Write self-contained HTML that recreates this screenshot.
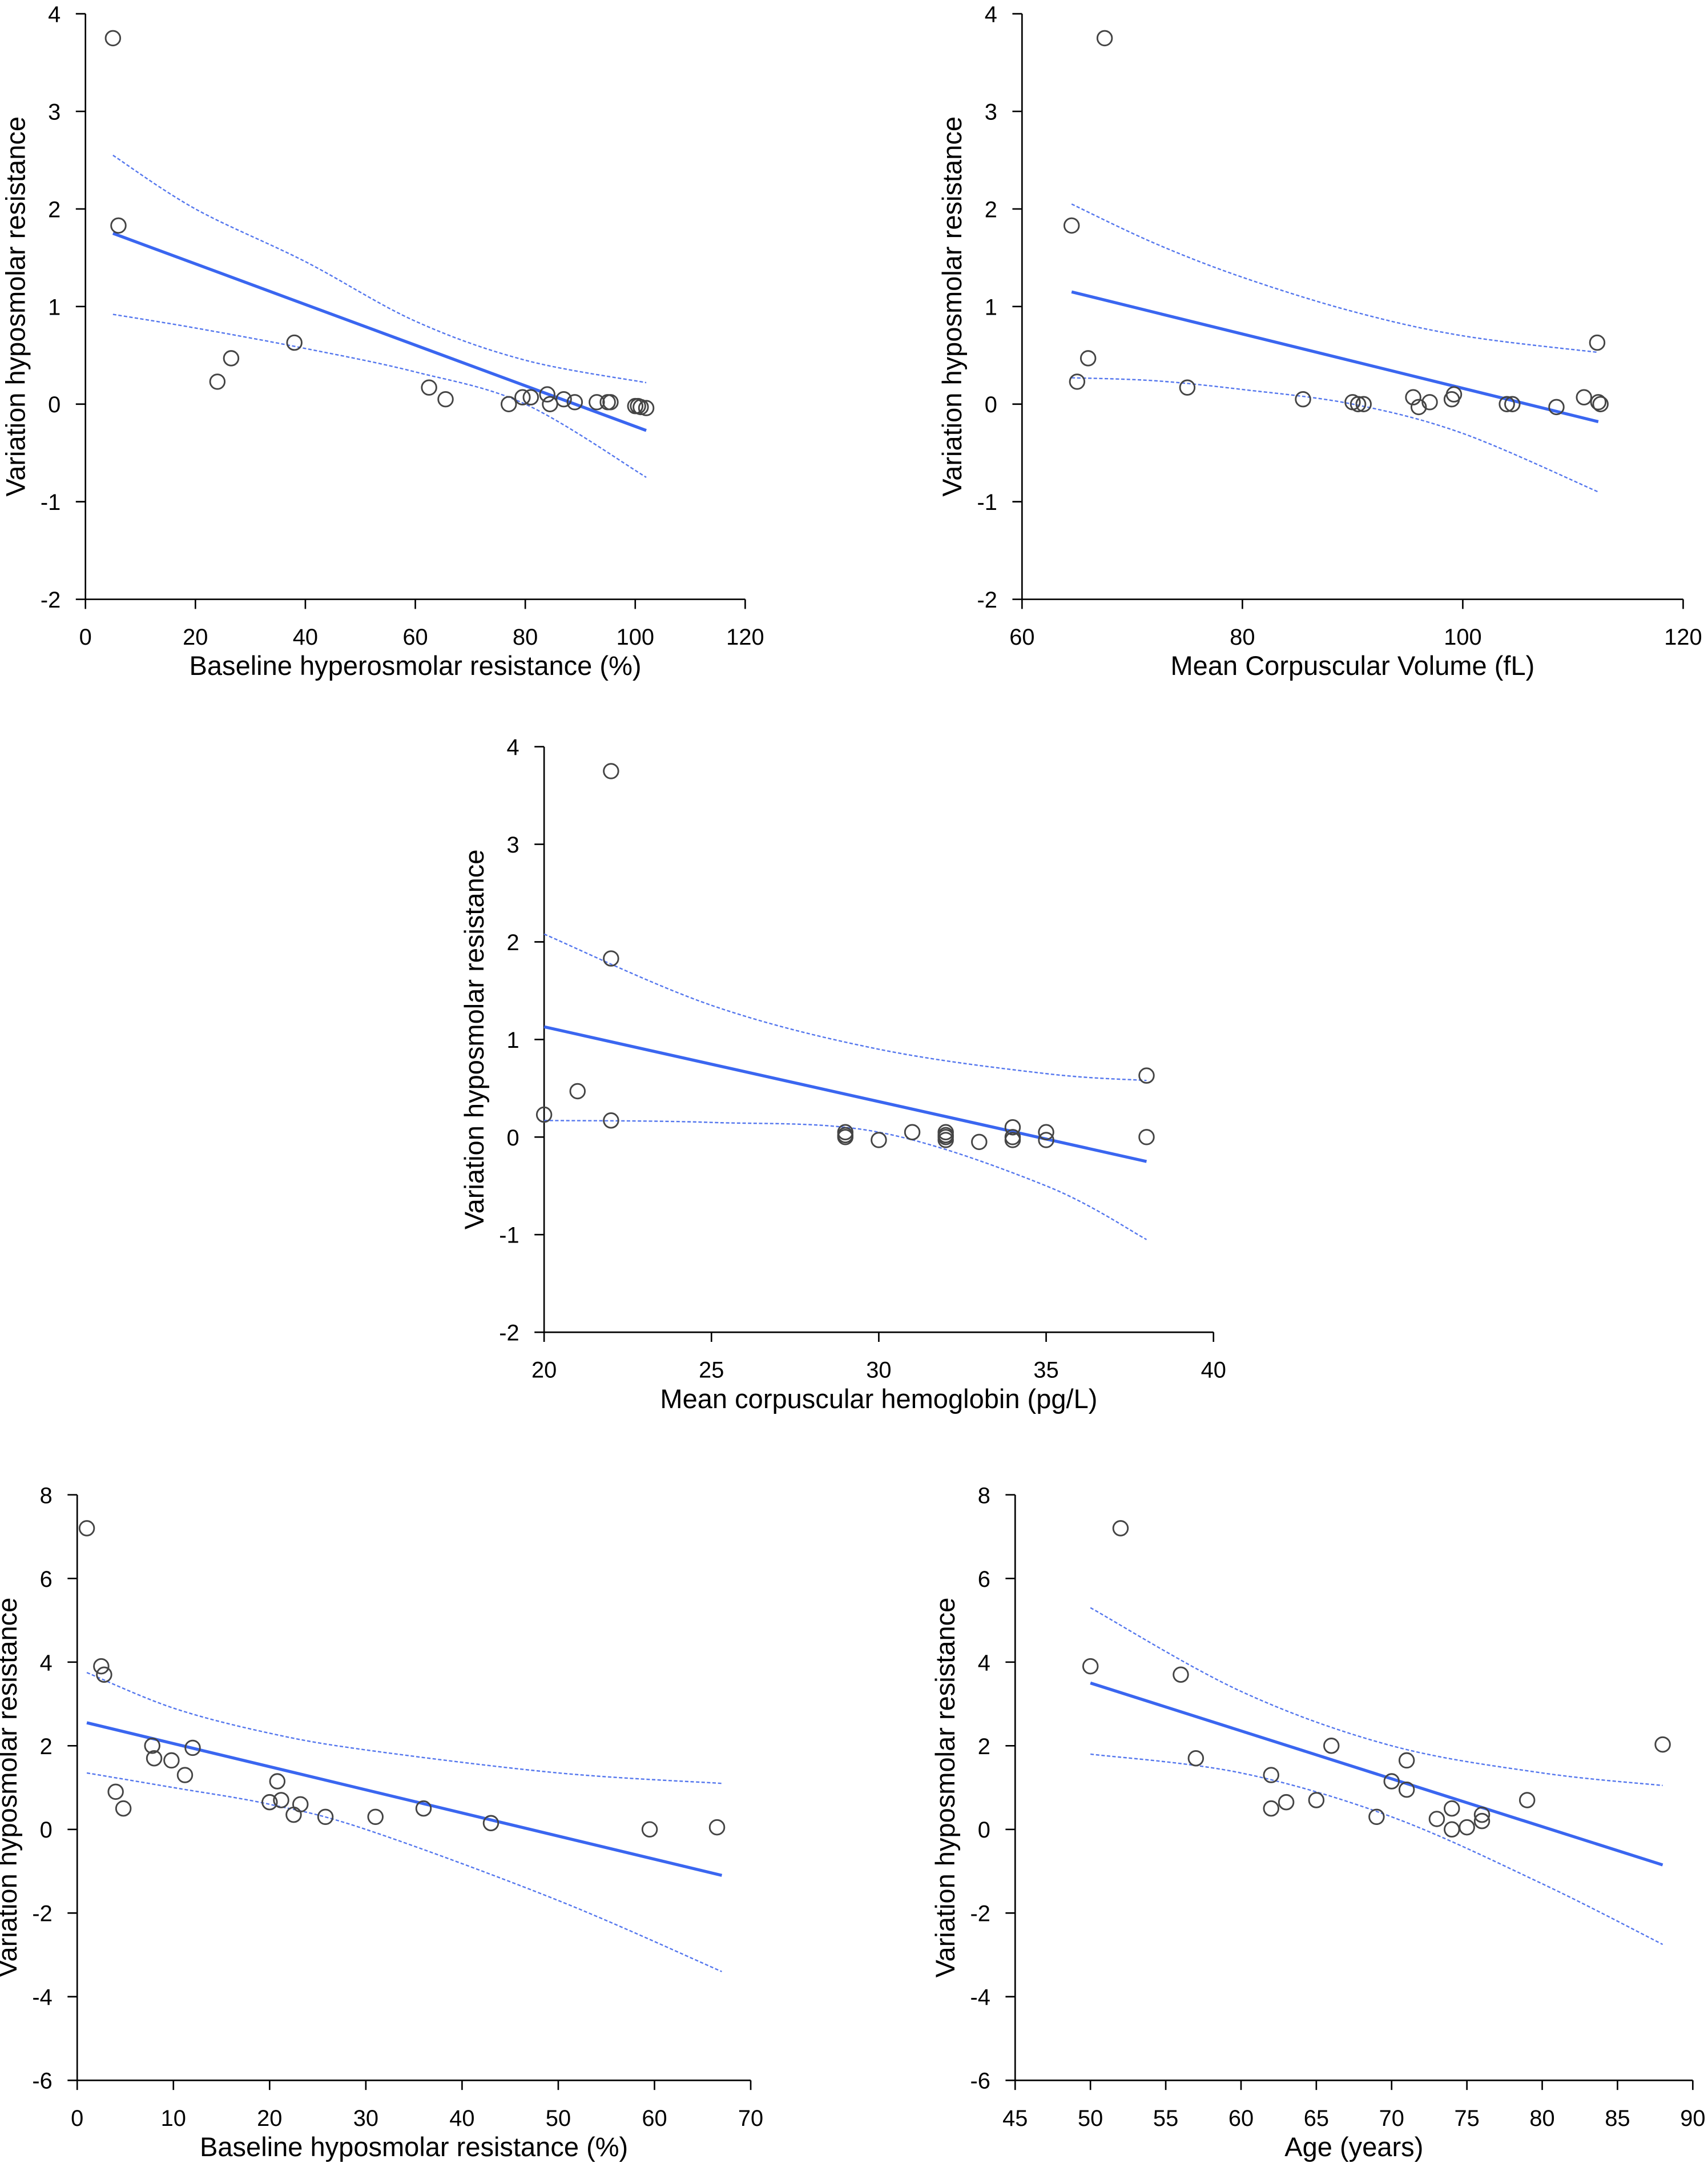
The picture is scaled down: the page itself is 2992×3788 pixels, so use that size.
<!DOCTYPE html>
<html><head><meta charset="utf-8"><style>
html,body{margin:0;padding:0;background:#fff}
svg{display:block}
text{font-family:"Liberation Sans",Arial,sans-serif;fill:#000}
</style></head><body>
<svg id="fig" width="2992" height="3788" viewBox="0 0 1240 1570" xmlns="http://www.w3.org/2000/svg"></svg>
<script>
// ---- data ----
const p1X=[5,6,24,26.5,38,62.5,65.5,77,79.5,81,84,84.5,87,89,93,95,95.5,100,100.5,101,102];
const p1Y=[3.75,1.83,0.23,0.47,0.63,0.17,0.05,0,0.07,0.07,0.1,0,0.05,0.02,0.02,0.02,0.02,-0.02,-0.02,-0.03,-0.04];
const p1FitX=[5,102], p1FitY=[1.75,-0.27];
const p1CiX=[5,20,40,60,80,102];
const p1Up=[2.55,2.0,1.46,0.85,0.45,0.22];
const p1Lo=[0.92,0.78,0.57,0.33,0.0,-0.75];

const p2X=[64.5,65,66,67.5,75,85.5,90,90.5,91,95.5,96,97,99,99.2,104,104.5,108.5,111,112.2,112.3,112.5];
const p2Y=[1.83,0.23,0.47,3.75,0.17,0.05,0.02,0,0,0.07,-0.03,0.02,0.05,0.1,0,0,-0.03,0.07,0.63,0.02,0];
const p2FitX=[64.5,112.3], p2FitY=[1.15,-0.18];
const p2CiX=[64.5,72,80,90,100,112.3];
const p2Up=[2.05,1.65,1.3,0.95,0.7,0.53];
const p2Lo=[0.27,0.24,0.15,0.0,-0.3,-0.9];

const p3X=[20,21,22,22,22,29,29,29,30,31,32,32,32,32,33,34,34,34,35,35,38,38];
const p3Y=[0.23,0.47,3.75,1.83,0.17,0.02,0.05,0,-0.03,0.05,0.05,0,-0.03,0.02,-0.05,0.1,0,-0.03,0.05,-0.03,0.63,0];
const p3FitX=[20,38], p3FitY=[1.13,-0.25];
const p3CiX=[20,25,30,35,38];
const p3Up=[2.08,1.35,0.9,0.65,0.58];
const p3Lo=[0.17,0.15,0.05,-0.5,-1.05];

const p4X=[1,2.5,2.8,4,4.8,7.8,8,9.8,11.2,12,20,20.8,21.2,22.5,23.2,25.8,31,36,43,59.5,66.5];
const p4Y=[7.2,3.9,3.7,0.9,0.5,2,1.7,1.65,1.3,1.95,0.65,1.15,0.7,0.35,0.6,0.3,0.3,0.5,0.15,0,0.05];
const p4FitX=[1,67], p4FitY=[2.55,-1.1];
const p4CiX=[1,10,20,30,50,67];
const p4Up=[3.75,2.9,2.3,1.9,1.35,1.1];
const p4Lo=[1.35,1.0,0.6,0.0,-1.7,-3.4];

const p5X=[50,52,56,57,62,62,63,65,66,69,70,71,71,73,74,74,75,76,76,79,88];
const p5Y=[3.9,7.2,3.7,1.7,1.3,0.5,0.65,0.7,2,0.3,1.15,1.65,0.95,0.25,0.5,0,0.05,0.2,0.35,0.7,2.03];
const p5FitX=[50,88], p5FitY=[3.5,-0.85];
const p5CiX=[50,60,70,80,88];
const p5Up=[5.3,3.3,2.0,1.35,1.05];
const p5Lo=[1.8,1.35,0.3,-1.3,-2.75];

const xTicks1=[0,20,40,60,80,100,120];
const xTicks2=[60,80,100,120];
const xTicks3=[20,25,30,35,40];
const xTicks4=[0,10,20,30,40,50,60,70];
const xTicks5=[45,50,55,60,65,70,75,80,85,90];
const yTicksA=[-2,-1,0,1,2,3,4];
const yTicksB=[-6,-4,-2,0,2,4,6,8];

const NS="http://www.w3.org/2000/svg";
const svg=document.getElementById('fig');
function mk(tag,attrs,parent){const e=document.createElementNS(NS,tag);for(const k in attrs)e.setAttribute(k,attrs[k]);(parent||svg).appendChild(e);return e;}
function smooth(pts){
  let d=`M${pts[0][0]},${pts[0][1]}`;
  for(let i=0;i<pts.length-1;i++){
    const p0=pts[i-1]||pts[i],p1=pts[i],p2=pts[i+1],p3=pts[i+2]||p2;
    const c1=[p1[0]+(p2[0]-p0[0])/6,p1[1]+(p2[1]-p0[1])/6];
    const c2=[p2[0]-(p3[0]-p1[0])/6,p2[1]-(p3[1]-p1[1])/6];
    d+=` C${c1[0]},${c1[1]} ${c2[0]},${c2[1]} ${p2[0]},${p2[1]}`;
  }
  return d;
}

function panel(cfg){
  const g=mk('g',{});
  
  
  const sx=v=>cfg.px0+(v-cfg.x0)/(cfg.x1-cfg.x0)*(cfg.px1-cfg.px0);
  const sy=v=>cfg.py0+(v-cfg.y0)/(cfg.y1-cfg.y0)*(cfg.py1-cfg.py0);
  const axis=mk('path',{d:`M${cfg.px0},${cfg.py0} L${cfg.px0},${cfg.py1} L${cfg.px1},${cfg.py1}`,fill:'none',stroke:'#000','stroke-width':1.1},g);
  
  
  cfg.xt.forEach(t=>{
    const x=sx(t);
    mk('line',{x1:x,x2:x,y1:cfg.py1,y2:cfg.py1+7,stroke:'#000','stroke-width':1.1},g);
    const tx=mk('text',{x:x,y:cfg.py1+33,'font-size':16.5,'text-anchor':'middle'},g);
    tx.textContent=t;
    
    
  });
  cfg.yt.forEach(t=>{
    const y=sy(t);
    mk('line',{x1:cfg.px0-7,x2:cfg.px0,y1:y,y2:y,stroke:'#000','stroke-width':1.1},g);
    const tx=mk('text',{x:cfg.px0-18,y:y+6,'font-size':16.5,'text-anchor':'end'},g);
    tx.textContent=t;
    
    
  });
  const xt=mk('text',{x:(cfg.px0+cfg.px1)/2,y:cfg.py1+55,'font-size':19.5,'text-anchor':'middle'},g);
  xt.textContent=cfg.xl;
  
  
  const yc=(cfg.py0+cfg.py1)/2, ytx=cfg.px0-44;
  const yt=mk('text',{x:ytx,y:yc,'font-size':19.5,'text-anchor':'middle',transform:`rotate(-90 ${ytx} ${yc})`},g);
  yt.textContent='Variation hyposmolar resistance';
  
  
  const ci=(arr,nm)=>{
    const p=mk('path',{d:smooth(cfg.cx.map((v,i)=>[sx(v),sy(arr[i])])),fill:'none',stroke:'#5577ee','stroke-width':1,'stroke-dasharray':'2.5,1.5'},g);
    
    
  };
  ci(cfg.up,'upper-confidence-band');
  ci(cfg.lo,'lower-confidence-band');
  const fit=mk('line',{x1:sx(cfg.fx[0]),y1:sy(cfg.fy[0]),x2:sx(cfg.fx[1]),y2:sy(cfg.fy[1]),stroke:'#3a66f0','stroke-width':2.2},g);
  
  
  cfg.X.forEach((v,i)=>{
    const c=mk('circle',{cx:sx(v),cy:sy(cfg.Y[i]),r:5.3,fill:'none',stroke:'#444','stroke-width':1.2},g);
    
    
  });
}

panel({name:'panel-hyperosmolar',px0:62,px1:541,x0:0,x1:120,py0:10,py1:435,y0:4,y1:-2,xt:xTicks1,yt:yTicksA,xl:'Baseline hyperosmolar resistance (%)',X:p1X,Y:p1Y,fx:p1FitX,fy:p1FitY,cx:p1CiX,up:p1Up,lo:p1Lo});
panel({name:'panel-mcv',px0:742,px1:1222,x0:60,x1:120,py0:10,py1:435,y0:4,y1:-2,xt:xTicks2,yt:yTicksA,xl:'Mean Corpuscular Volume (fL)',X:p2X,Y:p2Y,fx:p2FitX,fy:p2FitY,cx:p2CiX,up:p2Up,lo:p2Lo});
panel({name:'panel-mch',px0:395,px1:881,x0:20,x1:40,py0:542,py1:967,y0:4,y1:-2,xt:xTicks3,yt:yTicksA,xl:'Mean corpuscular hemoglobin (pg/L)',X:p3X,Y:p3Y,fx:p3FitX,fy:p3FitY,cx:p3CiX,up:p3Up,lo:p3Lo});
panel({name:'panel-hyposmolar',px0:56,px1:545,x0:0,x1:70,py0:1085,py1:1510,y0:8,y1:-6,xt:xTicks4,yt:yTicksB,xl:'Baseline hyposmolar resistance (%)',X:p4X,Y:p4Y,fx:p4FitX,fy:p4FitY,cx:p4CiX,up:p4Up,lo:p4Lo});
panel({name:'panel-age',px0:737,px1:1229,x0:45,x1:90,py0:1085,py1:1510,y0:8,y1:-6,xt:xTicks5,yt:yTicksB,xl:'Age (years)',X:p5X,Y:p5Y,fx:p5FitX,fy:p5FitY,cx:p5CiX,up:p5Up,lo:p5Lo});
</script>
</body></html>
